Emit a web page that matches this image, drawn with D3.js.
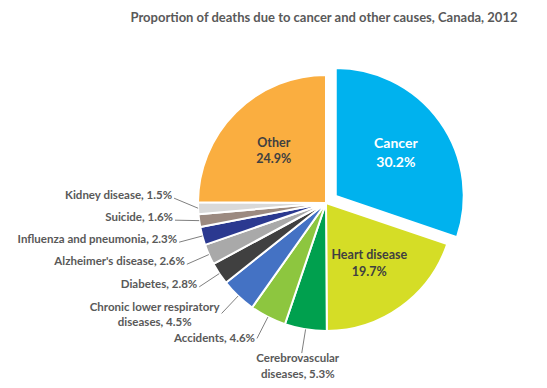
<!DOCTYPE html>
<html>
<head>
<meta charset="utf-8">
<script src="https://cdn.jsdelivr.net/npm/d3@7"></script>
<style>
body { margin: 0; background: #fff; }
text { font-family: Lato, "Open Sans", sans-serif; font-weight: 700; }
</style>
</head>
<body>
<script>
// data, clockwise from 12 o'clock
const causes = ["Cancer", "Heart disease", "Cerebrovascular diseases", "Accidents",
  "Chronic lower respiratory diseases", "Diabetes", "Alzheimer's disease",
  "Influenza and pneumonia", "Suicide", "Kidney disease", "Other"]
const shares = [30.2, 19.7, 5.3, 4.6, 4.5, 2.8, 2.6, 2.3, 1.6, 1.5, 24.9]
const colors = ["#00B2EE", "#D5DD26", "#00A04E", "#8DC63F", "#4472C4", "#404040",
  "#A9A9A9", "#2B3990", "#9C8A80", "#D9D9D9", "#FAAE40"]
const insideCauses = ["Cancer", "Heart disease", "Other"]
const wrapped = ["Cerebrovascular diseases", "Chronic lower respiratory diseases"]
const exploded = "Cancer"
const title = "Proportion of deaths due to cancer and other causes, Canada, 2012"

const w = 547, h = 388
const cx = 326, cy = 203
const r = 128
const pull = 12
const labelR = 152

const data = causes.map((c, i) => ({ cause: c, value: shares[i], color: colors[i] }))

const svg = d3.select("body").append("svg")
  .attr("width", w).attr("height", h)

svg.append("text")
  .attr("x", 324).attr("y", 17)
  .attr("dy", "0.35em")
  .attr("text-anchor", "middle")
  .style("font-size", "13px")
  .style("fill", "#595959")
  .text(title)

const pie = d3.pie().sort(null).value(d => d.value)
const arcs = pie(data)
const arc = d3.arc().innerRadius(0).outerRadius(r)
const labelArc = d3.arc().innerRadius(74).outerRadius(74)

const g = svg.append("g").attr("transform", `translate(${cx},${cy})`)

function shift(d) {
  if (d.data.cause !== exploded) return [0, 0]
  const m = (d.startAngle + d.endAngle) / 2
  return [pull * Math.sin(m), -pull * Math.cos(m)]
}

g.selectAll("path.slice")
  .data(arcs)
  .enter()
  .append("path")
  .attr("class", "slice")
  .attr("d", arc)
  .attr("transform", d => `translate(${shift(d)})`)
  .style("fill", d => d.data.color)
  .style("stroke", "#fff")
  .style("stroke-width", 2)
  .style("stroke-linejoin", "round")

// inside labels
arcs.filter(d => insideCauses.includes(d.data.cause)).forEach(d => {
  const [sx, sy] = shift(d)
  const [px, py] = labelArc.centroid(d)
  const big = d.data.cause === "Cancer"
  const lh = big ? 19 : 16.5
  const t = g.append("text")
    .attr("text-anchor", "middle")
    .style("font-size", big ? "14px" : "12.5px")
    .style("fill", big ? "#fff" : "#404040")
  const lines = [d.data.cause, d.value.toFixed(1) + "%"]
  lines.forEach((s, i) => {
    t.append("tspan")
      .attr("x", px + sx)
      .attr("y", py + sy + (i - 0.5) * lh)
      .attr("dy", "0.35em")
      .text(s)
  })
})

// outside labels with leader lines
const outside = arcs.filter(d => !insideCauses.includes(d.data.cause))
outside.forEach(d => {
  d.mid = (d.startAngle + d.endAngle) / 2
  d.ly = -labelR * Math.cos(d.mid)
})
// push labels up so they don't collide
for (let i = 1; i < outside.length; i++) {
  const d = outside[i], prev = outside[i - 1]
  if (prev.mid * 180 / Math.PI > 200) d.ly = Math.min(d.ly, prev.ly - 22)
}
outside.forEach(d => {
  d.lx = -Math.sqrt(labelR * labelR - d.ly * d.ly)
})

outside.forEach(d => {
  const x0 = r * Math.sin(d.mid), y0 = -r * Math.cos(d.mid)
  g.append("line")
    .attr("x1", x0).attr("y1", y0)
    .attr("x2", d.lx).attr("y2", d.ly)
    .style("stroke", "#7f7f7f")
    .style("stroke-width", 1)

  const txt = d.data.cause + ", " + d.value.toFixed(1) + "%"
  let lines = [txt]
  if (wrapped.includes(d.data.cause)) {
    const k = d.data.cause.lastIndexOf(" ")
    lines = [d.data.cause.slice(0, k), d.data.cause.slice(k + 1) + ", " + d.value.toFixed(1) + "%"]
  }
  const t = g.append("text")
    .style("font-size", "11.5px")
    .style("fill", "#595959")
    .attr("text-anchor", "middle")
  const spans = lines.map(s => t.append("tspan").text(s))
  const maxW = d3.max(spans, s => s.node().getComputedTextLength())
  const lh = 15.5
  const bottom = Math.abs(d.lx) < 40
  let tx, ty
  if (bottom) {
    tx = d.lx - 4
    ty = d.ly + 5
  } else {
    tx = d.lx - 2 - maxW / 2
    ty = d.ly - (d.ly > 120 ? 0 : 3) - (lines.length - 1) * lh / 2 + (lines.length > 1 ? 4 : 0)
  }
  spans.forEach((s, i) => {
    s.attr("x", tx).attr("y", ty + i * lh).attr("dy", "0.35em")
  })
})
</script>
</body>
</html>
